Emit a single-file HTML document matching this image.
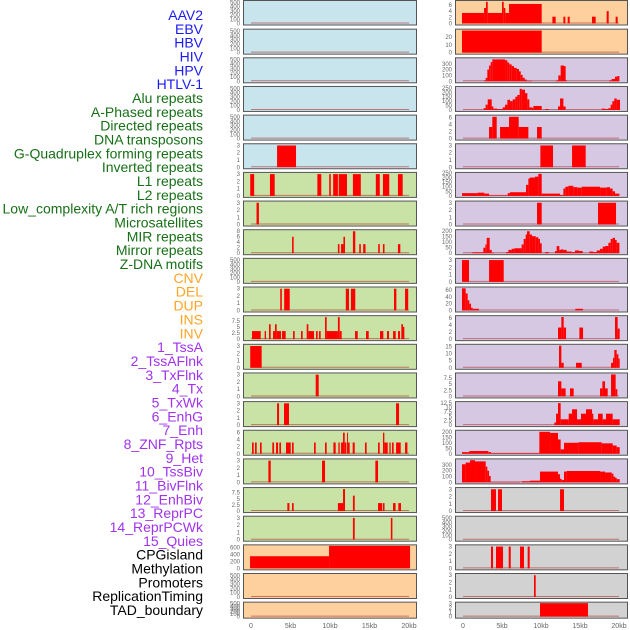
<!DOCTYPE html>
<html><head><meta charset="utf-8">
<style>
html,body{margin:0;padding:0;background:#fff;}
svg{display:block;font-family:"Liberation Sans",sans-serif;}
</style></head>
<body>
<svg id="chart" width="630" height="630" viewBox="0 0 630 630" xmlns="http://www.w3.org/2000/svg">
<g id="labels"></g>
<g id="panels"></g>
<g id="xaxis"></g>
</svg>
<script>
// ---- data ----
const trackLabels = ["AAV2","EBV","HBV","HIV","HPV","HTLV-1","Alu repeats","A-Phased repeats","Directed repeats","DNA transposons","G-Quadruplex forming repeats","Inverted repeats","L1 repeats","L2 repeats","Low_complexity A/T rich regions","Microsatellites","MIR repeats","Mirror repeats","Z-DNA motifs","CNV","DEL","DUP","INS","INV","1_TssA","2_TssAFlnk","3_TxFlnk","4_Tx","5_TxWk","6_EnhG","7_Enh","8_ZNF_Rpts","9_Het","10_TssBiv","11_BivFlnk","12_EnhBiv","13_ReprPC","14_ReprPCWk","15_Quies","CPGisland","Methylation","Promoters","ReplicationTiming","TAD_boundary"];
const labelGroups = ["v","v","v","v","v","v","r","r","r","r","r","r","r","r","r","r","r","r","r","s","s","s","s","s","c","c","c","c","c","c","c","c","c","c","c","c","c","c","c","o","o","o","o","o"];
const xTickValues = [0,5000,10000,15000,20000];
const xTickLabels = ["0","5kb","10kb","15kb","20kb"];
const t500 = [0,100,200,300,400,500];
const t3 = [0,1,2,3];
const t6 = [0,2,4,6];
const t75 = [0,2.5,5,7.5];

// bars: [startKb, endKb, value]
const L5 = [[3.3,5.7,3]];
const L6 = [[-0.1,0.4,3],[2.4,3.0,3],[8.4,8.9,3],[9.9,10.1,3],[10.4,11.0,3],[11.1,12.15,3],[12.9,13.9,3],[15.8,16.3,3],[16.7,17.5,3],[18.6,19.2,3]];
const L7 = [[0.7,1.0,3]];
const L8 = [[5.2,5.4,6],[11.0,11.2,3.3],[11.4,11.7,3.3],[11.7,11.9,6],[12.9,13.2,8],[13.7,13.9,3.3],[14.2,14.5,3.3],[16.1,16.3,3.3],[16.7,16.9,3.3],[18.6,18.9,3.3]];
const L10 = [[3.7,3.9,3],[4.2,4.9,3],[12.0,12.4,3],[12.65,13.2,3],[18.1,18.4,3],[19.5,19.9,3]];
const L11 = [[0.13,1.23,3.3],[1.73,1.9,3.3],[2.28,2.49,6.1],[2.79,3.04,3.3],[3.04,3.25,6.1],[3.25,3.8,3.3],[3.93,4.39,3.3],[5.32,5.53,3.3],[6.33,6.54,3.3],[7.05,7.26,6.1],[7.26,7.98,3.3],[8.23,8.44,3.3],[8.61,8.82,3.3],[9.37,9.58,9],[9.58,11.0,3.3],[11.0,11.23,9],[11.23,11.48,3.3],[13.17,13.51,3.3],[14.56,14.9,3.3],[16.33,16.75,3.3],[17.22,17.47,3.3],[17.98,18.32,3.3],[18.61,18.86,3.3],[19.03,19.24,6.1],[19.24,19.41,5]];
const L12 = [[-0.1,1.35,3]];
const L13 = [[8.19,8.57,3]];
const L14 = [[3.3,3.55,3],[4.18,4.81,3],[18.36,18.74,3]];
const L15 = [[0.13,0.34,3.2],[0.51,0.72,3.2],[1.14,1.35,3.2],[2.7,2.92,3.2],[3.17,3.42,3.2],[3.59,3.8,3.2],[4.43,5.03,3.2],[5.19,5.4,3.2],[7.98,8.19,3.2],[9.37,9.58,3.2],[10.43,10.72,3.2],[11.06,11.23,3.2],[11.4,11.65,3.2],[11.65,11.86,6],[11.86,12.07,3.2],[12.16,12.28,6],[12.28,12.49,3.2],[12.87,13.13,3.2],[14.43,14.64,3.2],[16.08,16.29,3.2],[16.71,16.88,6],[16.88,17.3,3.2],[17.52,17.68,3.2],[17.85,18.06,3.2],[18.36,18.95,3.2],[19.5,19.8,3.2]];
const L16 = [[2.2,2.5,3],[8.99,9.37,3],[15.74,16.08,3]];
const L17 = [[4.6,4.86,3.25],[5.19,5.4,3.25],[11.0,11.65,3.25],[11.65,11.9,9],[12.9,13.13,6.3],[16.08,16.6,3.25],[16.7,16.9,3.25],[17.98,18.3,3.25],[18.65,18.99,3.25]];
const L18 = [[12.9,13.13,3],[17.7,17.9,3]];
const L19 = [[-0.12,9.88,345],[9.88,20.13,640]];

const R0 = [[-0.13,2.7,3.4],[2.7,2.95,5],[2.95,3.17,7],[3.17,5.0,3.4],[5.0,5.22,7],[5.22,5.43,5],[5.43,5.9,3.4],[5.9,10.09,6.3],[11.46,11.88,2.2],[12.87,13.12,2.2],[13.42,13.68,2.2],[16.54,17.01,2.2],[18.42,18.68,4],[19.57,19.83,2.2]];
const R1 = [[-0.13,10.09,28.5]];
const R2 = [[2.7,2.91,15],[2.91,3.12,60],[3.12,3.34,200],[3.34,3.55,270],[3.55,3.76,330],[3.76,5.39,375],[5.39,5.69,360],[5.69,5.94,320],[5.94,6.24,290],[6.24,6.54,260],[6.54,6.88,230],[6.88,7.18,210],[7.18,7.4,170],[7.4,7.65,110],[7.65,7.91,60],[7.91,8.16,30],[8.16,8.81,10],[11.93,12.22,15],[12.22,12.52,100],[12.52,12.95,270],[12.95,13.16,260],[13.16,13.29,20],[18.72,19.06,15],[19.06,19.49,40],[19.49,19.79,80],[19.79,20.05,90]];
const R3 = [[2.65,2.9,20],[2.9,3.17,60],[3.17,3.68,120],[3.68,3.89,40],[3.89,4.4,15],[4.4,5.09,10],[5.09,5.39,30],[5.39,5.69,60],[5.69,6.03,115],[6.03,6.37,100],[6.37,6.71,120],[6.71,6.97,150],[6.97,7.27,170],[7.27,7.52,240],[7.52,7.95,230],[7.95,8.25,190],[8.25,8.51,120],[8.51,8.81,30],[8.81,9.02,25],[9.02,10.09,45],[10.52,10.99,10],[12.18,12.44,40],[12.44,12.87,130],[12.87,13.16,40],[17.78,18.21,15],[18.21,18.64,10],[18.64,18.93,20],[18.93,19.15,60],[19.15,19.4,100],[19.4,19.7,130],[19.7,20.13,115]];
const R4 = [[3.34,3.76,3.3],[3.76,4.32,6.2],[4.75,5.9,3.3],[5.9,7.14,6.2],[7.14,8.38,3.3],[9.49,10.09,3.3]];
const R5 = [[9.92,11.54,3],[13.98,15.73,3]];
const R6 = [[-0.13,1.88,30],[1.88,2.74,35],[2.74,3.34,25],[3.34,5.73,5],[5.73,6.03,30],[6.03,8.08,40],[8.08,8.38,120],[8.38,8.59,190],[8.59,9.23,200],[9.23,9.66,210],[9.66,10.09,240],[10.09,12.44,25],[12.44,12.87,10],[12.87,13.12,80],[13.12,13.51,100],[13.51,14.15,110],[14.15,14.66,95],[14.66,15.22,90],[15.22,17.57,100],[17.57,18.42,90],[18.42,18.85,95],[18.85,19.19,80],[19.19,19.49,50],[19.49,20.05,25]];
const R7 = [[9.49,10.09,3],[17.31,19.62,3]];
const R8 = [[1.2,2.61,8],[2.61,2.87,50],[2.87,3.04,80],[3.04,3.42,140],[3.42,3.68,30],[3.68,3.98,5],[5.52,5.82,10],[5.82,6.24,30],[6.24,6.58,40],[6.58,7.52,45],[7.52,7.78,80],[7.78,8.04,130],[8.04,8.21,170],[8.21,8.55,200],[8.55,8.85,170],[8.85,9.32,155],[9.32,9.66,145],[9.66,9.87,130],[9.87,10.09,90],[10.52,10.99,10],[11.8,12.01,20],[12.01,12.35,65],[12.35,12.57,30],[12.57,12.87,35],[12.87,13.29,30],[13.29,13.93,15],[13.93,14.36,10],[14.36,14.87,25],[14.87,15.34,20],[16.2,16.71,15],[16.71,17.14,10],[17.14,17.57,25],[17.57,17.91,40],[17.91,18.21,60],[18.21,18.64,65],[18.64,18.93,95],[18.93,19.19,130],[19.19,19.49,140],[19.49,19.7,120],[19.7,20.05,95]];
const R9 = [[-0.13,0.77,3],[3.34,5.22,3]];
const R10 = [[-0.13,0.34,65],[0.34,0.6,50],[0.6,0.81,30],[0.81,1.03,20],[1.03,1.24,8],[1.24,2.05,5],[14.4,15.39,5]];
const R11 = [[12.18,12.61,3.3],[12.61,12.91,6.3],[12.91,13.21,3.3],[14.92,15.39,3.3],[19.49,19.83,6.3],[19.83,20.09,3]];
const R12 = [[12.31,12.61,15.5],[12.61,12.91,3.5],[14.49,15.22,3.5],[18.98,19.23,3.5],[19.23,19.4,7],[19.4,19.7,12.5],[19.7,19.92,9.5],[19.92,20.09,6.5]];
const R13 = [[12.18,12.61,6.2],[12.61,13.16,3.3],[13.72,14.19,3.3],[17.57,17.87,3.3],[17.87,18.21,6.2],[18.21,18.55,3.3],[18.98,19.57,9],[19.57,19.79,3]];
const R14 = [[11.71,11.93,1.5],[11.93,12.18,6.5],[12.18,12.52,12.5],[12.52,13.55,3.3],[13.55,13.98,6.5],[13.98,14.62,9],[14.62,15.13,3.3],[15.13,15.77,6.5],[15.77,16.54,9],[16.54,16.71,6.5],[16.71,17.31,3.3],[17.31,17.91,6.5],[17.91,18.33,3.3],[18.33,19.19,6.5],[19.19,20.09,3.3]];
const R15 = [[-0.13,0.81,15],[0.81,3.25,25],[3.25,3.59,15],[3.59,9.79,5],[9.79,11.16,200],[11.16,12.18,190],[12.18,12.52,130],[12.52,12.95,40],[12.95,14.79,100],[14.79,17.78,105],[17.78,19.19,95],[19.19,19.7,75],[19.7,20.09,60]];
const R16 = [[-0.13,0.34,310],[0.34,0.9,340],[0.9,1.54,380],[1.54,2.91,360],[2.91,3.12,270],[3.12,3.34,200],[3.34,3.55,110],[3.55,7.31,8],[7.52,8.59,20],[8.59,9.87,30],[9.87,12.18,185],[12.18,12.44,140],[12.44,12.65,60],[12.65,12.95,40],[12.95,13.29,185],[13.29,17.57,195],[17.57,18.21,185],[18.21,19.06,170],[19.06,19.28,150],[19.28,19.49,100],[19.49,19.7,80],[19.7,20.09,55]];
const R17 = [[3.59,4.23,3],[4.49,5.0,3],[12.44,12.95,3]];
const R19 = [[3.59,3.85,3],[4.23,5.13,3],[5.86,6.12,3],[7.31,7.82,3],[8.29,8.55,3]];
const R20 = [[9.1,9.32,3]];
const R21 = [[9.87,16.03,3.1]];

// panel configs: [bars, ymax, ticks, colorKey]
const leftPanels = [[[],520,t500,"b"],[[],520,t500,"b"],[[],520,t500,"b"],[[],520,t500,"b"],[[],520,t500,"b"],[L5,3.1,t3,"b"],
 [L6,3.1,t3,"g"],[L7,3.1,t3,"g"],[L8,8.2,[0,2,4,6,8],"g"],[[],520,t500,"g"],[L10,3.1,t3,"g"],[L11,9.2,t75,"g"],[L12,3.1,t3,"g"],[L13,3.1,t3,"g"],[L14,3.1,t3,"g"],[L15,6.4,t6,"g"],[L16,3.1,t3,"g"],[L17,9.2,t75,"g"],[L18,3.1,t3,"g"],
 [L19,640,[0,200,400,600],"o"],[[],520,t500,"o"],[[],520,t500,"o"]];
const rightPanels = [[R0,7.1,t6,"o"],[R1,29,[0,10,20],"o"],[R2,385,[0,100,200,300],"p"],[R3,255,[0,50,100,150,200,250],"p"],[R4,6.4,t6,"p"],[R5,3.1,t3,"p"],[R6,245,[0,50,100,150,200,250],"p"],[R7,3.1,t3,"p"],[R8,205,[0,50,100,150,200],"p"],[R9,3.1,t3,"p"],[R10,66,[0,20,40,60],"p"],[R11,6.4,t6,"p"],[R12,15.8,[0,5,10,15],"p"],[R13,9.2,t75,"p"],[R14,12.8,[0,2.5,5,7.5,10,12.5],"p"],[R15,205,[0,50,100,150,200],"p"],[R16,385,[0,100,200,300],"p"],
 [R17,3.1,t3,"x"],[[],520,t500,"x"],[R19,3.1,t3,"x"],[R20,3.1,t3,"x"],[R21,3.1,t3,"x"]];

// ---- rendering ----
const NS = "http://www.w3.org/2000/svg";
const bgColors = {b:"#c8e4ec",g:"#c9e2a5",o:"#fed09e",p:"#d6c7e2",x:"#d2d2d2"};
const labelColors = {v:"#1b1bf5",r:"#177017",s:"#ffa526",c:"#a033ee",o:"#000000"};
function mk(tag, attrs){const e=document.createElementNS(NS,tag);for(const k in attrs)e.setAttribute(k,attrs[k]);return e;}
const labelG = document.getElementById("labels");
const labelStep = (615-20)/(trackLabels.length-1);
trackLabels.forEach((t,i)=>{
  const e = mk("text",{x:203,y:20+i*labelStep,"text-anchor":"end","font-size":"14",fill:labelColors[labelGroups[i]]});
  
  
  e.textContent = t;
  labelG.appendChild(e);
});
const cols = [{panels:leftPanels,px:243,pw:173,x0:251,x1:409,side:"left"},{panels:rightPanels,px:455,pw:172,x0:463,x1:619,side:"right"}];
const panelG = document.getElementById("panels");
cols.forEach(col=>{
  const xs = kb => col.x0 + kb/20*(col.x1-col.x0);
  col.panels.forEach((p,i)=>{
    const [bars,ymax,ticks,ck] = p;
    const top = i===0?0:28.65*i;
    const h = i===21?16:(i===0?24.5:25);
    const g = mk("g",{});
    
    
    const bg = mk("rect",{x:col.px+0.5,y:top+0.5,width:col.pw,height:h,fill:bgColors[ck],stroke:"#555",  "stroke-width":1});
    
    
    g.appendChild(bg);
    const y0 = top+h-1, ph = h-2.5;
    const ys = v => y0 - v/ymax*ph;
    const base = mk("line",{x1:xs(0),x2:xs(20),y1:y0-0.5,y2:y0-0.5,stroke:"#b03030","stroke-width":1,opacity:0.6});
    
    
    g.appendChild(base);
    bars.forEach(b=>{
      const r = mk("rect",{x:xs(b[0]),y:ys(b[2]),width:Math.max(0.8,xs(b[1])-xs(b[0])),height:y0-ys(b[2]),fill:"#ff0000"});
      
      
      g.appendChild(r);
    });
    ticks.forEach(t=>{
      const tx = mk("text",{x:col.px-3,y:ys(t)+2,"text-anchor":"end","font-size":"6",fill:"#666"});
      
      
      tx.textContent = String(t);
      g.appendChild(tx);
    });
    panelG.appendChild(g);
  });
  const xa = document.getElementById("xaxis");
  xTickValues.forEach((v,j)=>{
    const t = mk("text",{x:xs(v/1000),y:628,"text-anchor":"middle","font-size":"7",fill:"#666"});
    
    
    t.textContent = xTickLabels[j];
    xa.appendChild(t);
  });
});
</script>
</body></html>
